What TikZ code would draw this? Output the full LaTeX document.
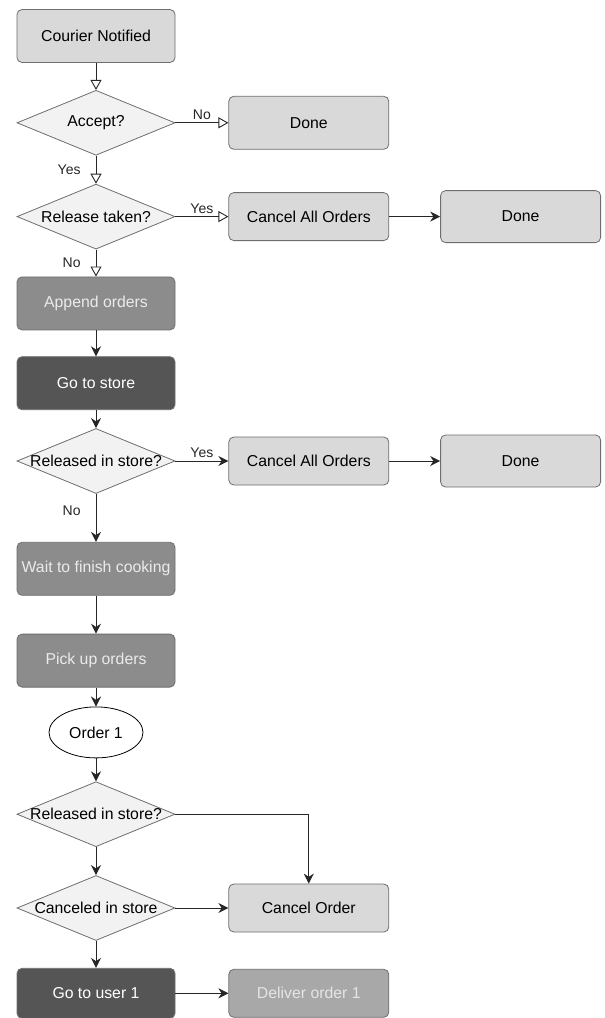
\documentclass[tikz,border=0pt]{standalone}
\usepackage{fontspec}
\setmainfont{Liberation Sans}
\usepackage{tikz}
\usetikzlibrary{arrows.meta,positioning,shapes.geometric}

\definecolor{boxlight}{RGB}{217,217,217}
\definecolor{boxmid}{RGB}{140,140,140}
\definecolor{boxdark}{RGB}{85,85,85}
\definecolor{boxfade}{RGB}{168,168,168}
\definecolor{decfill}{RGB}{242,242,242}
\definecolor{edge}{RGB}{110,110,110}

% diamond text may run past the diamond's edges
\newcommand{\dtxt}[1]{\makebox[0pt]{#1}}

\tikzset{
  pbox/.style={rectangle,rounded corners=5pt,draw=edge,fill=#1,line width=0.8pt,
               minimum width=158pt,minimum height=53pt,inner sep=0pt,
               font=\fontsize{15.8}{19}\selectfont},
  pbox/.default=boxlight,
  rbox/.style={pbox=#1,minimum width=160pt,minimum height=48pt},
  rbox/.default=boxlight,
  dec/.style={diamond,aspect=2.43,draw=edge,fill=decfill,line width=0.8pt,
              minimum width=158pt,minimum height=65pt,inner sep=0pt,
              font=\fontsize{15.8}{19}\selectfont},
  term/.style={ellipse,draw=black,fill=white,line width=0.8pt,
               minimum width=94pt,minimum height=51pt,inner sep=0pt,
               font=\fontsize{15.8}{19}\selectfont},
  arr/.style={-{Stealth[length=10pt,width=10pt]},line width=0.9pt,color=black!85},
  oarr/.style={-{Triangle[open,length=10pt,width=11pt]},line width=0.9pt,color=black!85},
  lbl/.style={font=\fontsize{14}{16}\selectfont,inner sep=1pt},
}

\begin{document}
\begin{tikzpicture}[x=1pt,y=1pt]
    \fill[white] (0,0) rectangle (605,-1018);
    \useasboundingbox (0,0) rectangle (605,-1018);

    % main column
    \node[pbox] (cn) at (96,-36) {Courier Notified};
    \node[dec, below=27pt of cn] (acc) {\dtxt{Accept?}};
    \node[dec, below=28pt of acc] (rel) {\dtxt{Release taken?}};
    \node[pbox=boxmid, text=white!92!black, below=27pt of rel] (app) {Append orders};
    \node[pbox=boxdark, text=white, below=26pt of app] (gos) {Go to store};
    \node[dec, below=18pt of gos] (ris) {\dtxt{Released in store?}};
    \node[pbox=boxmid, text=white!92!black, below=48pt of ris] (wait) {Wait to finish cooking};
    \node[pbox=boxmid, text=white!92!black, below=38pt of wait] (pick) {Pick up orders};
    \node[term, below=19pt of pick] (ord) {Order 1};
    \node[dec, below=23pt of ord] (ris2) {\dtxt{Released in store?}};
    \node[dec, below=28pt of ris2] (cis) {\dtxt{Canceled in store}};
    \node[pbox=boxdark, text=white, minimum height=50pt, below=27pt of cis] (gou) {Go to user 1};

    % right side
    \node[rbox, minimum height=53pt, right=53pt of acc] (done1) {Done};
    \node[rbox, right=53pt of rel] (can1) {Cancel All Orders};
    \node[rbox, minimum height=52pt, right=51pt of can1] (done2) {Done};
    \node[rbox, right=53pt of ris] (can2) {Cancel All Orders};
    \node[rbox, minimum height=52pt, right=51pt of can2] (done3) {Done};
    \node[rbox, right=53pt of cis] (cord) {Cancel Order};
    \node[rbox=boxfade, text=white!90!black, right=53pt of gou] (del) {Deliver order 1};

    % connectors
    \draw[oarr] (cn) -- (acc);
    \draw[oarr] (acc) -- node[lbl, above=2pt] {No} (done1);
    \draw[oarr] (acc) -- node[lbl, left=14pt] {Yes} (rel);
    \draw[oarr] (rel) -- node[lbl, above=2pt] {Yes} (can1);
    \draw[oarr] (rel) -- node[lbl, left=14pt] {No} (app);
    \draw[arr] (can1) -- (done2);
    \draw[arr] (app) -- (gos);
    \draw[arr] (gos) -- (ris);
    \draw[arr] (ris) -- node[lbl, above=2pt] {Yes} (can2);
    \draw[arr] (can2) -- (done3);
    \draw[arr] (ris) -- node[lbl, left=14pt, pos=0.35] {No} (wait);
    \draw[arr] (wait) -- (pick);
    \draw[arr] (pick) -- (ord);
    \draw[arr] (ord) -- (ris2);
    \draw[arr] (ris2.east) -| (cord.north);
    \draw[arr] (ris2) -- (cis);
    \draw[arr] (cis) -- (cord);
    \draw[arr] (cis) -- (gou);
    \draw[arr] (gou) -- (del);
\end{tikzpicture}
\end{document}
